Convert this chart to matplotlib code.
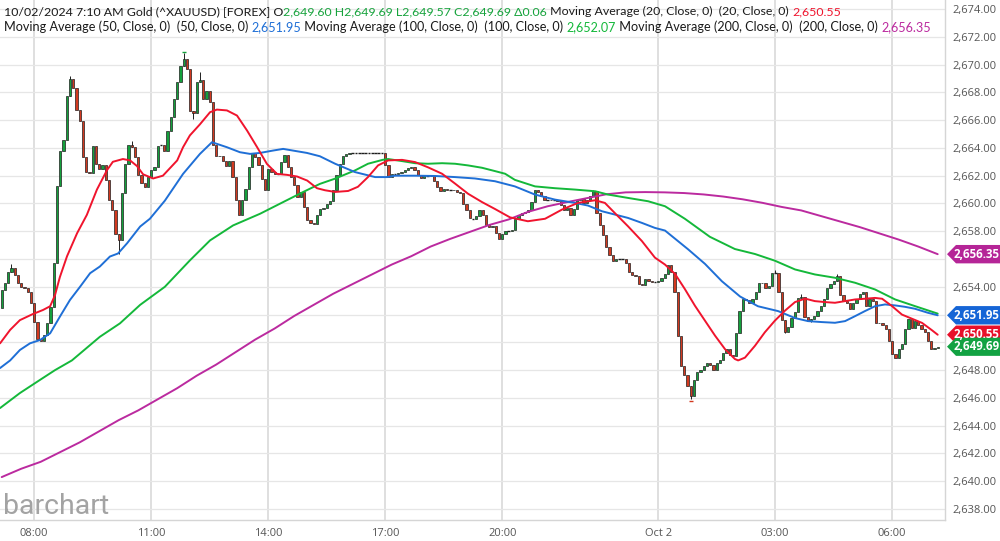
import matplotlib
matplotlib.use("Agg")
import matplotlib.pyplot as plt
from matplotlib.patches import Polygon
from matplotlib.transforms import blended_transform_factory
from matplotlib.ticker import FuncFormatter

FONT = ["Open Sans", "DejaVu Sans"]
HDR_FONT = ["Lato", "Open Sans", "DejaVu Sans"]

# ---------------- data (5-minute bars, 07:10 Oct 1 -> 07:10 Oct 2) ----------------
first_open = 2652.45
closes = [
    2653.77, 2654.25, 2655.10, 2655.34, 2654.85, 2654.25, 2654.00, 2653.90, 2653.65, 2652.86,
    2651.49, 2650.22, 2650.10, 2650.53, 2651.37, 2652.57, 2655.70, 2661.23, 2663.75, 2664.60,
    2667.76, 2668.97, 2668.30, 2666.70, 2665.91, 2663.34, 2662.30, 2662.20, 2664.16, 2662.86,
    2662.50, 2662.80, 2661.70, 2660.22, 2659.54, 2657.81, 2657.38, 2660.75, 2662.86, 2664.23,
    2664.10, 2663.34, 2662.07, 2661.47, 2661.18, 2661.90, 2662.40, 2662.62, 2664.16, 2664.20,
    2663.75, 2665.20, 2666.26, 2667.53, 2668.73, 2669.93, 2670.40, 2669.69, 2666.64, 2666.55,
    2668.73, 2668.90, 2667.53, 2668.13, 2667.29, 2664.24, 2663.45, 2663.40, 2663.05, 2662.73,
    2663.05, 2661.90, 2660.22, 2659.14, 2660.22, 2661.05, 2662.61, 2663.62, 2663.33, 2662.80,
    2661.77, 2660.94, 2662.50, 2662.30, 2662.13, 2662.10, 2663.00, 2663.50, 2662.60, 2661.90,
    2661.30, 2660.45, 2660.80, 2659.74, 2658.78, 2658.60, 2658.55, 2659.14, 2659.62, 2659.70,
    2659.95, 2660.19, 2660.95, 2662.02, 2662.86, 2663.45, 2663.55, 2663.62, 2663.65, 2663.65,
    2663.65, 2663.65, 2663.65, 2663.65, 2663.65, 2663.65, 2663.65, 2663.65, 2662.74, 2661.90,
    2662.14, 2662.10, 2662.19, 2662.29, 2662.43, 2662.57, 2662.62, 2662.43, 2662.02, 2661.86,
    2661.95, 2661.95, 2662.00, 2661.62, 2661.19, 2660.90, 2661.07, 2661.00, 2661.00, 2660.95,
    2660.83, 2660.76, 2659.95, 2659.52, 2658.93, 2658.90, 2659.10, 2659.52, 2659.17, 2658.45,
    2658.33, 2658.38, 2657.90, 2657.45, 2657.80, 2658.00, 2658.00, 2658.12, 2658.90, 2659.20,
    2659.32, 2659.42, 2659.56, 2660.09, 2661.00, 2660.80, 2660.52, 2660.28, 2660.28, 2660.23,
    2660.23, 2660.16, 2659.92, 2659.56, 2659.68, 2659.20, 2659.60, 2660.23, 2660.30, 2660.04,
    2660.23, 2660.52, 2660.88, 2659.30, 2658.45, 2657.70, 2656.90, 2656.30, 2655.85, 2655.97,
    2655.97, 2656.00, 2655.68, 2655.06, 2654.82, 2654.77, 2654.18, 2654.10, 2654.54, 2654.42,
    2654.35, 2654.35, 2654.40, 2654.60, 2654.92, 2655.57, 2655.04, 2653.60, 2650.44, 2648.28,
    2647.65, 2646.84, 2646.17, 2647.32, 2647.90, 2648.04, 2648.33, 2648.50, 2648.40, 2648.00,
    2648.50, 2648.70, 2649.20, 2649.50, 2649.10, 2649.05, 2650.70, 2652.27, 2653.09, 2653.04,
    2652.85, 2653.10, 2653.60, 2654.29, 2654.24, 2653.95, 2654.05, 2654.96, 2655.00, 2653.64,
    2651.60, 2650.76, 2651.12, 2651.72, 2652.20, 2653.16, 2653.30, 2651.80, 2651.53, 2651.70,
    2651.90, 2652.25, 2652.60, 2653.14, 2653.93, 2654.17, 2654.40, 2654.77, 2653.38, 2652.97,
    2652.80, 2652.37, 2652.85, 2653.14, 2653.45, 2653.62, 2652.60, 2653.10, 2652.95, 2651.41,
    2651.36, 2651.22, 2650.98, 2650.09, 2649.18, 2648.90, 2649.50, 2649.85, 2650.98, 2651.70,
    2651.05, 2651.53, 2651.22, 2650.98, 2650.74, 2650.09, 2649.49, 2649.60, 2649.69,
]
wick_high = {3: 2655.65, 21: 2669.20, 40: 2664.50, 56: 2670.80, 61: 2669.45,
             182: 2661.00, 238: 2655.20, 246: 2653.50, 257: 2654.90}
wick_low = {36: 2656.37, 59: 2666.10, 212: 2645.90, 241: 2650.70, 249: 2651.46}

# moving averages at (bar number, value)
ma20_bar = [-0.5, 2.6, 5.6, 9.6, 12.7, 14.9, 16.4, 17.9, 20.1, 23.2, 26.2, 29.3, 32.4, 34.2, 37.3,
            39.5, 41.6, 43.5, 46.6, 49.6, 54.0, 55.8, 57.9, 61.0, 64.1, 66.2, 69.3, 72.4, 75.5,
            78.6, 81.6, 84.7, 87.8, 90.9, 94.0, 97.0, 99.5, 102.6, 106.6, 109.6, 112.7, 115.8,
            118.9, 123.2, 127.2, 131.2, 135.5, 139.5, 143.5, 147.8, 151.8, 156.4, 161.9, 167.2,
            172.4, 177.3, 182.6, 185.6, 188.7, 192.7, 197.0, 201.0, 204.1, 207.2, 210.2, 213.3,
            216.4, 219.5, 222.6, 225.6, 226.6, 228.7, 231.8, 234.8, 237.9, 241.0, 244.1, 247.2,
            250.2, 253.3, 256.4, 259.5, 262.6, 265.6, 268.7, 270.9, 274.0, 277.0, 280.1, 283.2,
            286.2, 288.0]
ma20_val = [2649.93, 2650.9, 2651.6, 2652.04, 2652.33, 2652.6, 2653.4, 2654.7, 2656.2, 2657.86,
            2659.18, 2661.0, 2662.4, 2663.0, 2663.2, 2663.1, 2662.7, 2662.1, 2661.8, 2662.0,
            2663.1, 2664.05, 2664.9, 2665.7, 2666.57, 2666.76, 2666.7, 2666.33, 2665.25, 2664.05,
            2662.85, 2662.13, 2662.06, 2661.94, 2661.65, 2661.1, 2660.95, 2660.83, 2660.9, 2661.2,
            2661.9, 2662.74, 2663.1, 2663.14, 2662.98, 2662.6, 2662.14, 2661.43, 2660.7, 2660.1,
            2659.6, 2659.0, 2658.72, 2658.9, 2659.56, 2660.04, 2660.23, 2660.04, 2659.3, 2658.36,
            2657.29, 2656.1, 2655.6, 2654.92, 2653.84, 2652.64, 2651.56, 2650.48, 2649.5, 2648.8,
            2648.7, 2648.9, 2649.76, 2650.72, 2651.56, 2652.28, 2652.9, 2653.15, 2652.97, 2652.9,
            2652.85, 2652.97, 2653.09, 2653.14, 2653.2, 2653.14, 2652.6, 2652.0, 2651.7, 2651.4,
            2650.88, 2650.55]
ma50_bar = [-0.5, 2.6, 5.6, 8.7, 11.8, 14.9, 17.9, 21.0, 24.1, 27.2, 30.2, 33.3, 35.8, 38.6, 42.6,
            45.6, 50.2, 55.8, 61.0, 64.7, 69.3, 73.3, 76.4, 79.5, 83.5, 86.6, 89.6, 93.9, 97.9,
            102.6, 108.7, 114.9, 118.6, 121.0, 127.2, 133.3, 139.5, 145.6, 151.8, 157.9, 164.1,
            170.2, 176.4, 180.4, 184.7, 188.7, 192.7, 197.0, 201.0, 204.1, 211.2, 216.4, 221.6,
            227.2, 232.7, 238.9, 244.1, 248.1, 252.4, 256.4, 259.5, 262.6, 265.6, 268.7, 271.8,
            274.9, 277.9, 281.0, 285.0, 288.0]
ma50_val = [2648.15, 2648.7, 2649.45, 2649.93, 2650.17, 2650.65, 2651.85, 2653.05, 2654.0, 2654.98,
            2655.46, 2656.18, 2656.4, 2657.14, 2658.34, 2658.9, 2660.2, 2662.13, 2663.57, 2664.41,
            2664.05, 2663.69, 2663.57, 2663.64, 2663.81, 2663.93, 2663.81, 2663.64, 2663.4, 2662.86,
            2662.26, 2661.9, 2661.9, 2662.0, 2662.0, 2661.98, 2661.9, 2661.8, 2661.6, 2661.23,
            2660.64, 2660.28, 2660.04, 2659.85, 2659.44, 2659.2, 2658.96, 2658.6, 2658.24, 2658.05,
            2656.7, 2655.65, 2654.4, 2653.3, 2652.6, 2652.25, 2651.75, 2651.53, 2651.46, 2651.41,
            2651.53, 2651.89, 2652.25, 2652.6, 2652.73, 2652.66, 2652.56, 2652.42, 2652.13, 2651.95]
ma100_bar = [-0.5, 5.6, 11.8, 16.4, 21.6, 30.2, 36.4, 42.6, 50.2, 57.9, 64.1, 71.2, 79.5, 86.6,
             92.7, 97.9, 102.6, 108.7, 112.7, 117.2, 118.9, 123.2, 127.2, 131.2, 135.5, 139.5,
             143.5, 147.8, 151.8, 154.9, 157.9, 164.1, 170.2, 176.4, 182.6, 186.6, 192.7, 198.9,
             204.1, 210.2, 217.9, 225.6, 231.8, 237.9, 244.1, 250.2, 256.4, 262.6, 268.7, 274.9,
             281.0, 288.0]
ma100_val = [2645.27, 2646.35, 2647.3, 2648.0, 2648.7, 2650.4, 2651.37, 2652.7, 2654.0, 2655.9,
             2657.34, 2658.42, 2659.26, 2660.1, 2660.82, 2661.41, 2661.79, 2662.38, 2662.86, 2663.14,
             2663.2, 2663.05, 2662.9, 2662.86, 2662.9, 2662.86, 2662.74, 2662.57, 2662.33, 2662.14,
             2661.7, 2661.23, 2661.1, 2661.0, 2660.88, 2660.64, 2660.4, 2660.16, 2659.8, 2658.9,
             2657.6, 2656.72, 2656.36, 2655.88, 2655.25, 2654.89, 2654.65, 2654.29, 2653.81, 2653.09,
             2652.61, 2652.07]
ma200_bar = list(range(0, 289, 6))
ma200_val = [2640.3, 2640.9, 2641.4, 2642.1, 2642.8, 2643.6, 2644.4, 2645.1, 2645.9, 2646.7,
             2647.6, 2648.4, 2649.3, 2650.2, 2651.0, 2651.9, 2652.7, 2653.5, 2654.2, 2654.9,
             2655.6, 2656.2, 2656.9, 2657.45, 2657.95, 2658.45, 2658.85, 2659.4, 2659.8, 2660.1,
             2660.38, 2660.66, 2660.8, 2660.82, 2660.8, 2660.75, 2660.65, 2660.5, 2660.3, 2660.05,
             2659.75, 2659.5, 2659.1, 2658.7, 2658.3, 2657.85, 2657.4, 2656.9, 2656.35]

tick_bars = [10, 46, 82, 118, 154, 202, 238, 274]
tick_labels = ["08:00", "11:00", "14:00", "17:00", "20:00", "Oct 2", "03:00", "06:00"]

# ---------------- colours ----------------
UP, DOWN, EDGE = "#14a03c", "#d2391f", "#1e1e1e"
C20, C50, C100, C200 = "#f0142d", "#1f6fd6", "#14b83a", "#bb2a9f"
HDR_GREEN = "#16a33c"

# ---------------- figure ----------------
fig = plt.figure(figsize=(10, 5.41), dpi=100)
bot = 21 / 541
ax = fig.add_axes([0, bot, 0.945, 1 - bot])
ax.set_xlim(-0.523, 290.25)
ax.set_ylim(2637.21, 2674.65)

for s in ("top", "left"):
    ax.spines[s].set_visible(False)
for s in ("right", "bottom"):
    ax.spines[s].set_color("#d5d5d5")
    ax.spines[s].set_linewidth(1)

tag_values = [ma200_val[-1], ma50_val[-1], ma20_val[-1], closes[-1]]
ax.set_yticks(range(2638, 2675, 2))
ax.yaxis.tick_right()
ax.yaxis.set_major_formatter(FuncFormatter(
    lambda v, p: "" if any(abs(v - t) < 0.9 for t in tag_values) else f"{v:,.2f}"))
ax.tick_params(axis="y", length=0, pad=5, labelsize=8, labelcolor="#555555")
for lab in ax.get_yticklabels():
    lab.set_family(FONT)
ax.set_xticks(tick_bars)
ax.set_xticklabels(tick_labels, family=FONT)
ax.tick_params(axis="x", length=0, pad=6, labelsize=8, labelcolor="#555555")
ax.grid(axis="y", color="#e6e6e6", lw=0.9, zorder=0)
ax.grid(axis="x", color="#dcdcdc", lw=1.3, zorder=0)
ax.set_axisbelow(True)

# ---------------- candles ----------------
opens = [first_open] + closes[:-1]
for i, (o, c) in enumerate(zip(opens, closes)):
    hi = max(o, c, wick_high.get(i, -1e9))
    lo = min(o, c, wick_low.get(i, 1e9))
    if hi > max(o, c) + 0.01 or lo < min(o, c) - 0.01:
        ax.vlines(i, lo, hi, color=EDGE, lw=0.7, zorder=3)
    if abs(c - o) < 0.04:
        ax.hlines((o + c) / 2, i - 0.42, i + 0.42, color=EDGE, lw=1.0, zorder=3)
    else:
        ax.bar(i, abs(c - o), bottom=min(o, c), width=0.72,
               color=UP if c > o else DOWN, edgecolor=EDGE, lw=0.5, zorder=3)

# high / low markers
imax = max(range(len(closes)), key=lambda k: max(opens[k], closes[k], wick_high.get(k, 0)))
imin = min(range(len(closes)), key=lambda k: min(opens[k], closes[k], wick_low.get(k, 1e9)))
hv = max(opens[imax], closes[imax], wick_high.get(imax, 0))
lv = min(opens[imin], closes[imin], wick_low.get(imin, 1e9))
ax.plot([imax], [hv + 0.12], marker="_", ms=3, color=UP, zorder=3)
ax.plot([imin], [lv - 0.12], marker="_", ms=3, color=DOWN, zorder=3)

# ---------------- moving averages ----------------
for bx, vals, col in ((ma200_bar, ma200_val, C200), (ma100_bar, ma100_val, C100),
                      (ma50_bar, ma50_val, C50), (ma20_bar, ma20_val, C20)):
    ax.plot(bx, vals, color=col, lw=1.4, zorder=4, solid_capstyle="round",
            solid_joinstyle="round")

# ---------------- watermark ----------------
fig.text(3 / 1000, 1 - 514 / 541, "barchart", fontsize=20.5, color="#a3a3a3",
         family=["Roboto", "DejaVu Sans"], va="baseline", ha="left", zorder=2)

# ---------------- header ----------------
def chain(parts, x0, y0, fs):
    arts = [fig.text(x0, y0, parts[0][0], color=parts[0][1], fontsize=fs, family=HDR_FONT,
                     va="bottom", ha="left", zorder=6)]
    for txt, col in parts[1:]:
        arts.append(ax.annotate(txt, xy=(1, 0), xycoords=arts[-1], xytext=(0, 0),
                                textcoords="offset points", color=col, fontsize=fs,
                                family=HDR_FONT, va="bottom", ha="left",
                                annotation_clip=False, zorder=6))
    return arts


def fit(arts, left_px, right_px):
    fig.canvas.draw()
    r = fig.canvas.get_renderer()
    width = arts[-1].get_window_extent(r).x1 - left_px
    k = (right_px - left_px) / width
    for a in arts:
        a.set_fontsize(a.get_fontsize() * k)


BLK = "#1a1a1a"
line1 = [("10/02/2024 7:10 AM Gold (^XAUUSD) [FOREX] O", BLK),
         ("2,649.60 H2,649.69 L2,649.57 C2,649.69 \u03940.06", HDR_GREEN),
         (" Moving Average (20, Close, 0)  (20, Close, 0) ", BLK),
         (f"{ma20_val[-1]:,.2f}", C20)]
line2 = [("Moving Average (50, Close, 0)  (50, Close, 0) ", BLK),
         (f"{ma50_val[-1]:,.2f}", C50),
         (" Moving Average (100, Close, 0)  (100, Close, 0) ", BLK),
         (f"{ma100_val[-1]:,.2f}", C100),
         (" Moving Average (200, Close, 0)  (200, Close, 0) ", BLK),
         (f"{ma200_val[-1]:,.2f}", C200)]
a1 = chain(line1, 4 / 1000, 1 - 17 / 541, 9.0)
a2 = chain(line2, 4 / 1000, 1 - 33 / 541, 9.0)
fit(a1, 4, 845)
fit(a2, 4, 930)

# ---------------- right-hand value tags ----------------
blend = blended_transform_factory(fig.transFigure, ax.transData)
hh = 9.2 / 13.89
tag_cols = ["#b52597", "#1565d6", "#e8102a", "#12a242"]
for v, col in zip(tag_values, tag_cols):
    pts = [(0.947, v), (0.956, v + hh), (1.0, v + hh), (1.0, v - hh), (0.956, v - hh)]
    fig.add_artist(Polygon(pts, closed=True, transform=blend, facecolor=col, edgecolor="none",
                           zorder=7, clip_on=False))
    fig.text(0.9765, v, f"{v:,.2f}", transform=blend, color="white", fontsize=8.3,
             fontweight="bold", family=FONT, ha="center", va="center", zorder=8)

fig.savefig("out.png", dpi=100, facecolor="white")
